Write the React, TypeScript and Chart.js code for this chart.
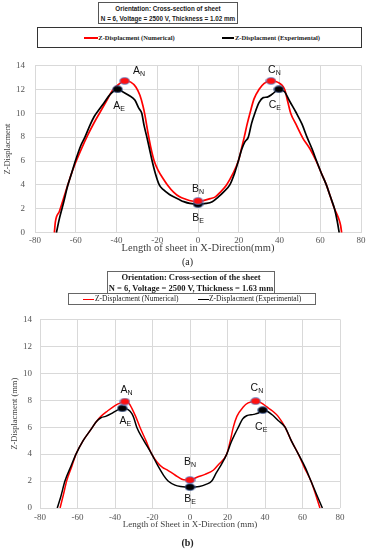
import React, { useEffect, useRef } from "react";
import { Chart, registerables } from "chart.js";

Chart.register(...registerables);

const X_TICKS = [-80, -60, -40, -20, 0, 20, 40, 60, 80];
const Y_TICKS = [0, 2, 4, 6, 8, 10, 12, 14];

// ---------- Panel (a): thickness 1.02 mm ----------
const numAX = [-70.5, -70, -68, -65, -62, -60, -57, -54, -51, -48, -45, -42, -39, -36, -33, -30.5, -28.5, -27, -26, -24.5, -23, -21.5, -19.5, -17, -15, -12, -9, -6, -3, 0, 3, 6, 8.5, 11, 14, 17, 19.8, 21.3, 22.7, 24, 25.5, 27.5, 30, 32.5, 35.8, 39, 42.5, 44, 45.5, 48, 51.5, 55, 58, 61, 63, 65, 67, 69, 70, 70.5];
const numAY = [0, 0.9, 1.8, 3.4, 5.0, 5.9, 7.1, 8.2, 9.2, 10.1, 11.0, 11.9, 12.4, 12.7, 12.6, 12.2, 11.5, 10.6, 9.8, 8.3, 7.0, 6.0, 5.2, 4.5, 4.0, 3.4, 3.0, 2.8, 2.65, 2.6, 2.7, 2.85, 3.0, 3.4, 4.0, 4.9, 6.0, 7.0, 8.0, 9.0, 10.0, 11.2, 12.0, 12.5, 12.7, 12.6, 12.0, 11.0, 10.0, 9.1, 7.9, 7.0, 6.0, 4.8, 4.0, 3.0, 2.0, 1.2, 0.6, 0];
const expAX = [-69.5, -68, -66, -64, -62, -60, -57.5, -55.5, -53, -51, -49, -46, -43, -39.5, -37, -34, -31, -29, -27.6, -26.5, -25.1, -23.8, -22.5, -21, -19, -17, -14, -12, -9, -7, -4, 0, 4, 7, 10, 12.5, 15.6, 18, 19.8, 21.5, 23, 24.7, 26.3, 27.9, 30, 32, 34, 36.5, 39.7, 42.5, 45, 48, 51, 53.5, 56, 58.2, 60.5, 63, 65, 67, 68.3, 69.3];
const expAY = [0, 1.2, 2.5, 3.9, 5.0, 6.1, 7.3, 8.0, 9.0, 9.7, 10.2, 10.9, 11.6, 12.0, 11.8, 11.5, 11.1, 10.4, 10.0, 9.0, 8.0, 7.0, 6.0, 5.0, 4.0, 3.6, 3.2, 3.0, 2.75, 2.6, 2.45, 2.4, 2.45, 2.6, 3.0, 3.4, 4.0, 5.0, 6.0, 7.0, 7.6, 8.0, 9.15, 10.0, 10.9, 11.3, 11.35, 11.6, 12.0, 11.8, 11.0, 10.1, 9.1, 8.0, 7.0, 6.0, 5.0, 4.0, 3.0, 2.0, 1.0, 0];
const markNumAX = [-36, 0, 35.8];
const markNumAY = [12.7, 2.66, 12.7];
const markExpAX = [-39.5, 0, 39.7];
const markExpAY = [12.0, 2.39, 12.0];

// ---------- Panel (b): thickness 1.63 mm ----------
const numBX = [-69.3, -67.5, -65.8, -63, -60.8, -57, -53, -50, -47.5, -44, -40, -37, -34.7, -32.5, -31, -29, -26.7, -23.5, -20.4, -17.5, -14.5, -12.4, -8, -3.5, 0, 4, 8, 12.4, 15, 19.6, 21.5, 23.1, 25, 28.4, 31, 35, 38, 41, 44, 47, 50.7, 54, 57.8, 61, 64.5, 67, 69.3];
const numBY = [0, 1.0, 2.0, 3.1, 4.0, 5.0, 5.8, 6.4, 6.8, 7.2, 7.6, 7.8, 7.9, 7.75, 7.4, 6.8, 6.0, 5.0, 4.0, 3.4, 3.0, 2.85, 2.45, 2.1, 2.08, 2.3, 2.5, 2.8, 3.2, 4.0, 5.0, 6.0, 6.8, 7.5, 7.8, 7.93, 7.8, 7.5, 7.2, 6.8, 6.0, 5.0, 4.0, 3.0, 2.0, 1.0, 0];
const expBX = [-70.8, -69, -66.7, -63.5, -60.8, -57, -53, -50, -47.5, -45, -42, -39, -36.1, -33, -31, -30, -28.4, -25, -20.4, -17, -14, -11.7, -8, -5, 0, 5, 8.5, 11.6, 14, 17, 19.6, 22, 24, 25.8, 28, 30.2, 34, 36.5, 38.8, 41, 44, 47, 50.7, 54, 57.8, 61.5, 64.5, 67.5, 70.6];
const expBY = [0, 0.8, 2.0, 3.1, 4.0, 5.0, 5.8, 6.4, 6.7, 6.8, 7.0, 7.25, 7.4, 7.3, 7.0, 6.7, 6.0, 5.1, 4.0, 3.1, 2.4, 2.0, 1.7, 1.6, 1.55, 1.6, 1.75, 2.0, 2.6, 3.3, 4.0, 4.9, 5.5, 6.0, 6.6, 6.85, 6.95, 7.05, 7.27, 7.2, 6.9, 6.5, 6.0, 5.0, 4.0, 3.0, 2.0, 1.0, 0];
const markNumBX = [-34.7, 0, 35];
const markNumBY = [7.9, 2.08, 7.93];
const markExpBX = [-36.1, 0, 38.8];
const markExpBY = [7.4, 1.55, 7.27];

const markLetters = ["A", "B", "C"];

type Off = { dx: number; dy: number };

type Panel = {
  numX: number[]; numY: number[]; expX: number[]; expY: number[];
  mNX: number[]; mNY: number[]; mEX: number[]; mEY: number[];
  offN: Off[]; offE: Off[];
  xTitle: string; yTitle: string;
  padTop: number; padRight: number; yW: number; xH: number;
  xTickPad: number; yTickPad: number; xTitlePadB: number; yTitlePadT: number;
  xTitleSize: number; yTitleSize: number; tickSize: number;
  lineW: number;
};

function ellipse(fill: string, stroke: string) {
  const c = document.createElement("canvas");
  c.width = 11;
  c.height = 8;
  const g = c.getContext("2d")!;
  g.beginPath();
  g.ellipse(5.5, 4, 4.7, 3.3, 0, 0, Math.PI * 2);
  g.fillStyle = fill;
  g.fill();
  g.lineWidth = 0.9;
  g.strokeStyle = stroke;
  g.stroke();
  return c;
}

function pts(xs: number[], ys: number[]) {
  return xs.map((x, i) => ({ x, y: ys[i] }));
}

function buildChart(canvas: HTMLCanvasElement, p: Panel) {
  const redDot = ellipse("#ff1010", "#5b7fc4");
  const blackDot = ellipse("#000000", "#3b5a9a");
  const labelPlugin = {
    id: "markLabels",
    afterDatasetsDraw(chart: any) {
      const ctx = chart.ctx;
      const groups = [
        { ds: 0, sub: "N", offs: p.offN },
        { ds: 1, sub: "E", offs: p.offE },
      ];
      ctx.save();
      ctx.fillStyle = "#111";
      ctx.textBaseline = "middle";
      ctx.textAlign = "left";
      for (const g of groups) {
        const meta = chart.getDatasetMeta(g.ds);
        meta.data.forEach((el: any, i: number) => {
          const main = markLetters[i];
          ctx.font = '10.5px "Liberation Sans", Arial, sans-serif';
          const wm = ctx.measureText(main).width;
          ctx.font = '7px "Liberation Sans", Arial, sans-serif';
          const ws = ctx.measureText(g.sub).width;
          const cx = el.x + g.offs[i].dx;
          const cy = el.y + g.offs[i].dy;
          const x0 = cx - (wm + ws) / 2;
          ctx.font = '10.5px "Liberation Sans", Arial, sans-serif';
          ctx.fillText(main, x0, cy);
          ctx.font = '7px "Liberation Sans", Arial, sans-serif';
          ctx.fillText(g.sub, x0 + wm, cy + 3);
        });
      }
      ctx.restore();
    },
  };
  const tickFont = { family: '"Liberation Serif", "Times New Roman", serif', size: p.tickSize };
  return new Chart(canvas, {
    type: "scatter",
    data: {
      datasets: [
        { data: pts(p.mNX, p.mNY), pointStyle: redDot as any, pointRadius: 5, showLine: false },
        { data: pts(p.mEX, p.mEY), pointStyle: blackDot as any, pointRadius: 5, showLine: false },
        { data: pts(p.expX, p.expY), showLine: true, borderColor: "#000", borderWidth: p.lineW, pointRadius: 0, cubicInterpolationMode: "monotone" },
        { data: pts(p.numX, p.numY), showLine: true, borderColor: "#ff0000", borderWidth: p.lineW, pointRadius: 0, cubicInterpolationMode: "monotone" },
      ] as any,
    },
    options: {
      responsive: false,
      animation: false,
      events: [],
      layout: { padding: { top: p.padTop, right: p.padRight, left: 0, bottom: 0 } },
      plugins: { legend: { display: false }, tooltip: { enabled: false }, title: { display: false } },
      scales: {
        x: {
          type: "linear",
          min: -80,
          max: 80,
          afterBuildTicks: (s: any) => { s.ticks = X_TICKS.map((v) => ({ value: v })); },
          afterFit: (s: any) => { s.height = p.xH; },
          grid: { color: "#d9d9d9", lineWidth: 1, drawTicks: false },
          border: { display: false },
          ticks: { padding: p.xTickPad, font: tickFont, color: "#555", maxRotation: 0, autoSkip: false },
          title: {
            display: true,
            text: p.xTitle,
            color: "#404040",
            font: { family: '"Liberation Serif", "Times New Roman", serif', size: p.xTitleSize },
            padding: { top: 0, bottom: p.xTitlePadB },
          },
        },
        y: {
          type: "linear",
          min: 0,
          max: 14,
          afterBuildTicks: (s: any) => { s.ticks = Y_TICKS.map((v) => ({ value: v })); },
          afterFit: (s: any) => { s.width = p.yW; },
          grid: { color: "#d9d9d9", lineWidth: 1, drawTicks: false },
          border: { display: false },
          ticks: { padding: p.yTickPad, font: tickFont, color: "#555", autoSkip: false },
          title: {
            display: true,
            text: p.yTitle,
            color: "#404040",
            font: { family: '"Liberation Serif", "Times New Roman", serif', size: p.yTitleSize },
            padding: { top: p.yTitlePadT, bottom: 0 },
          },
        },
      },
    } as any,
    plugins: [labelPlugin],
  });
}

const panelA: Panel = {
  numX: numAX, numY: numAY, expX: expAX, expY: expAY,
  mNX: markNumAX, mNY: markNumAY, mEX: markExpAX, mEY: markExpAY,
  offN: [{ dx: 14.5, dy: -10 }, { dx: 0, dy: -12 }, { dx: 3.5, dy: -10.5 }],
  offE: [{ dx: 1.5, dy: 16.5 }, { dx: 0, dy: 13.5 }, { dx: -4, dy: 15.5 }],
  xTitle: "Length of sheet in X-Direction(mm)",
  yTitle: "Z-Displacment",
  padTop: 10.5, padRight: 9, yW: 35, xH: 27.3,
  xTickPad: 3, yTickPad: 10, xTitlePadB: 5, yTitlePadT: 3,
  xTitleSize: 10.5, yTitleSize: 8.5, tickSize: 9, lineW: 1.7,
};

const panelB: Panel = {
  numX: numBX, numY: numBY, expX: expBX, expY: expBY,
  mNX: markNumBX, mNY: markNumBY, mEX: markExpBX, mEY: markExpBY,
  offN: [{ dx: 1.7, dy: -11.7 }, { dx: 0, dy: -17.5 }, { dx: 1.3, dy: -12.7 }],
  offE: [{ dx: 3, dy: 12.3 }, { dx: 0, dy: 11.6 }, { dx: -1.5, dy: 17.3 }],
  xTitle: "Length of Sheet in X-Direction (mm)",
  yTitle: "Z-Displacment (mm)",
  padTop: 9, padRight: 30, yW: 40, xH: 28,
  xTickPad: 4, yTickPad: 8, xTitlePadB: 5.5, yTitlePadT: 9.5,
  xTitleSize: 9, yTitleSize: 8.5, tickSize: 9, lineW: 1.5,
};

const abs = (l: number, t: number, w: number, h: number, extra: React.CSSProperties = {}): React.CSSProperties => ({
  position: "absolute", left: l, top: t, width: w, height: h, boxSizing: "border-box", ...extra,
});

const serif = '"Liberation Serif", "Times New Roman", serif';
const sans = '"Liberation Sans", Arial, sans-serif';

export default function App() {
  const refA = useRef<HTMLCanvasElement>(null);
  const refB = useRef<HTMLCanvasElement>(null);
  useEffect(() => {
    const a = buildChart(refA.current!, panelA);
    const b = buildChart(refB.current!, panelB);
    return () => { a.destroy(); b.destroy(); };
  }, []);

  const lineStyle = (top: number, size: number, family: string, bold: boolean, scale = 1): React.CSSProperties => ({
    position: "absolute", left: -20, right: -20, top, textAlign: "center", fontSize: size, lineHeight: "10px",
    fontFamily: family, fontWeight: bold ? 700 : 400, color: "#1a1a1a", whiteSpace: "nowrap",
    transform: scale !== 1 ? `scaleX(${scale})` : undefined, transformOrigin: "center",
  });

  return (
    <div style={{ position: "absolute", left: 0, top: 0, width: 370, height: 550, background: "#fff", overflow: "hidden" }}>
      {/* Panel (a) header */}
      <div style={abs(98, 2, 140, 21.5, { border: "1px solid #555" })}>
        <div style={lineStyle(0.5, 7, sans, true, 0.9)}>Orientation: Cross-section of sheet</div>
        <div style={lineStyle(10.5, 7, sans, true, 0.9)}>N = 6, Voltage = 2500 V, Thickness = 1.02 mm</div>
      </div>
      <div style={abs(37, 27, 325, 21, { border: "1px solid #333" })}>
        <div style={abs(46.3, 9.3, 13.4, 1.6, { background: "#ff0000" })} />
        <div style={{ position: "absolute", left: 60.3, top: 4.5, fontSize: 6.5, lineHeight: "10px", fontFamily: serif, fontWeight: 700, color: "#222", whiteSpace: "nowrap" }}>Z-Displacment (Numerical)</div>
        <div style={abs(183.7, 9.3, 12, 1.6, { background: "#000" })} />
        <div style={{ position: "absolute", left: 197, top: 4.5, fontSize: 6.5, lineHeight: "10px", fontFamily: serif, fontWeight: 700, color: "#222", whiteSpace: "nowrap" }}>Z-Displacment (Experimental)</div>
      </div>
      <canvas ref={refA} width={370} height={210} style={{ position: "absolute", left: 0, top: 50 }} />
      <div style={{ position: "absolute", left: 0, width: 375, top: 256, textAlign: "center", fontSize: 10, lineHeight: "12px", fontFamily: serif, color: "#222" }}>(a)</div>

      {/* Panel (b) header */}
      <div style={abs(107, 270.5, 168, 23, { border: "1px solid #666" })}>
        <div style={lineStyle(0.7, 8.5, serif, true)}>Orientation: Cross-section of the sheet</div>
        <div style={lineStyle(11.7, 8.5, serif, true)}>N = 6, Voltage = 2500 V, Thickness = 1.63 mm</div>
      </div>
      <div style={abs(68, 293.2, 248, 12, { border: "1px solid #666" })}>
        <div style={abs(14, 4.6, 10.5, 1.3, { background: "#ff0000" })} />
        <div style={{ position: "absolute", left: 26, top: 0, fontSize: 7.5, lineHeight: "10px", fontFamily: serif, color: "#222", whiteSpace: "nowrap" }}>Z-Displacment (Numerical)</div>
        <div style={abs(129, 4.6, 10.5, 1.3, { background: "#000" })} />
        <div style={{ position: "absolute", left: 140, top: 0, fontSize: 7.5, lineHeight: "10px", fontFamily: serif, color: "#222", whiteSpace: "nowrap" }}>Z-Displacment (Experimental)</div>
      </div>
      <canvas ref={refB} width={370} height={230} style={{ position: "absolute", left: 0, top: 306 }} />
      <div style={{ position: "absolute", left: 0, width: 375, top: 537, textAlign: "center", fontSize: 10, lineHeight: "12px", fontFamily: serif, fontWeight: 700, color: "#222" }}>(b)</div>
    </div>
  );
}
